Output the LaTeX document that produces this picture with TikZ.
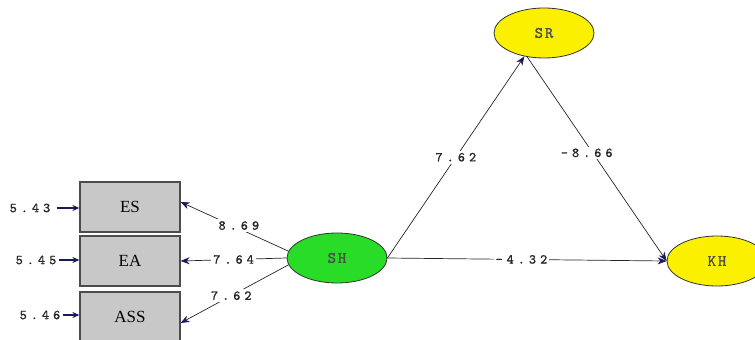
\documentclass[tikz,border=0pt]{standalone}
\usepackage{fontspec}
\setmainfont{Liberation Serif}
\newfontfamily\numfont[LetterSpace=30,FakeBold=1.2]{lmmono10-regular.otf}
\newfontfamily\latfont[LetterSpace=12,FakeBold=1.2]{lmmono10-regular.otf}
\usetikzlibrary{arrows.meta,shapes.geometric}
\definecolor{tipcol}{RGB}{25,25,90}
\definecolor{boxgray}{RGB}{200,200,200}
\definecolor{latgreen}{RGB}{40,220,40}
\definecolor{latyellow}{RGB}{250,240,0}
\begin{document}
\begin{tikzpicture}[x=1pt,y=-1pt,
  obs/.style={rectangle,draw=black!70,line width=1.2pt,fill=boxgray,minimum width=100pt,minimum height=50pt,inner sep=0pt,font=\fontsize{17}{17}\selectfont},
  lat/.style={ellipse,draw=black!80,line width=0.8pt,minimum width=100pt,minimum height=50pt,inner sep=0pt,font=\latfont\fontsize{16}{16}\selectfont,text=black!70},
  num/.style={font=\numfont\fontsize{13.5}{13.5}\selectfont,text=black!85,inner sep=1.5pt},
  lab/.style={num,fill=white,inner sep=2pt},
  arr/.style={draw=black!85,line width=0.7pt,-{Stealth[length=9pt,width=7pt,color=tipcol]}},
  earr/.style={draw=tipcol,line width=1.2pt,-{Stealth[length=7pt,width=6pt,color=tipcol]}}]
\useasboundingbox (0,0) rectangle (755,340);
% observed variables
\node[obs] (ES) at (130,207) {ES};
\node[obs] (EA) at (130,261) {EA};
\node[obs] (ASS) at (130,317) {ASS};
% latent variables
\node[lat,fill=latgreen] (SH) at (337,258) {SH};
\node[lat,fill=latyellow] (SR) at (544,33) {SR};
\node[lat,fill=latyellow] (KH) at (717,261) {KH};
% error terms
\node[num] (e1) at (30,208) {5.43};
\node[num] (e2) at (36,260) {5.45};
\node[num] (e3) at (40,315) {5.46};
\draw[earr] ([xshift=5pt]e1.east) -- (ES.west |- e1.east);
\draw[earr] ([xshift=1pt]e2.east) -- (EA.west |- e2.east);
\draw[earr] ([xshift=1pt]e3.east) -- (ASS.west |- e3.east);
% loadings
\draw[arr] (SH.172) -- node[lab,pos=0.46,yshift=3pt] {8.69} ([yshift=5pt]ES.east);
\draw[arr] (SH.west) -- node[lab,pos=0.5] {7.64} (EA.east);
\draw[arr] (SH.188) -- node[lab,pos=0.53] {7.62} ([yshift=-6pt]ASS.east);
% structural paths
\draw[arr] (SH.east) -- node[lab,pos=0.5] {7.62} (SR.230);
\draw[arr] (SR.235) -- node[lab,pos=0.47,xshift=-6pt] {-8.66} (KH.west);
\draw[arr] (SH.east) -- node[lab,pos=0.48] {-4.32} (KH.west);
\end{tikzpicture}
\end{document}
